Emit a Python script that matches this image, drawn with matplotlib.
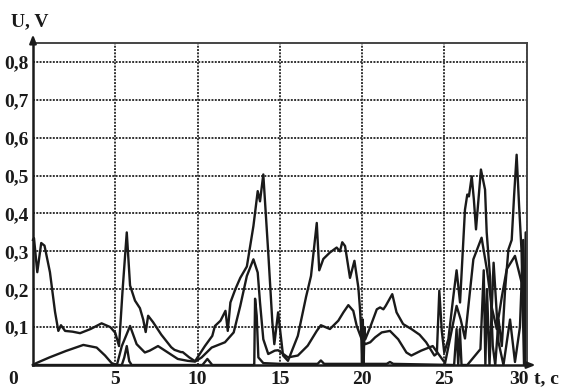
import matplotlib
matplotlib.use("Agg")
import matplotlib.pyplot as plt
from matplotlib.transforms import ScaledTranslation

# ---- data ----
A_t = [0, 0.06, 0.26, 0.5, 0.7, 1.03, 1.34, 1.54, 1.7, 1.95,
       2.4, 2.86, 3.5, 4.17, 4.7, 5.0, 5.23, 5.45, 5.7, 5.9,
       6.2, 6.5, 6.7, 6.85, 7.0, 7.3, 7.8, 8.4, 8.6, 9.0,
       9.1, 9.5, 9.85, 10.45, 10.9, 11.06, 11.4, 11.7, 11.84, 12.0,
       12.3, 12.6, 13.0, 13.15, 13.4, 13.66, 13.8, 14.0, 14.3, 14.55,
       14.67, 14.9, 15.2, 15.5, 16.1, 16.6, 16.9, 17.25, 17.4, 17.65,
       18.05, 18.46, 18.66, 18.8, 18.97, 19.27, 19.54, 19.78, 19.88, 19.95,
       20.0, 20.05, 20.1, 20.15, 20.2, 20.5, 20.9, 21.1, 21.3, 21.44,
       21.84, 22.1, 22.5, 23.0, 23.5, 23.9, 24.4, 24.55, 24.7, 24.85,
       25.0, 25.25, 25.55, 25.75, 25.96, 26.26, 26.4, 26.5, 26.67, 26.8,
       26.93, 27.23, 27.48, 27.58, 27.78, 27.95, 28.1, 28.3, 28.5, 28.7,
       28.9, 29.1, 29.25, 29.4, 29.55, 29.7, 29.85, 29.95, 30.0]
A_U = [0.33, 0.335, 0.245, 0.322, 0.315, 0.245, 0.14, 0.09, 0.105, 0.09,
       0.088, 0.084, 0.095, 0.11, 0.1, 0.085, 0.05, 0.2, 0.35, 0.21,
       0.17, 0.15, 0.12, 0.087, 0.13, 0.113, 0.08, 0.047, 0.04, 0.034,
       0.034, 0.02, 0.01, 0.05, 0.077, 0.103, 0.117, 0.143, 0.09, 0.165,
       0.2, 0.23, 0.26, 0.3, 0.367, 0.459, 0.432, 0.503, 0.297, 0.113,
       0.055, 0.139, 0.025, 0.011, 0.077, 0.18, 0.235, 0.375, 0.25, 0.28,
       0.297, 0.31, 0.30, 0.324, 0.314, 0.23, 0.275, 0.204, 0.147, 0.09,
       0.0, 0.12, 0.0, 0.1, 0.068, 0.1, 0.147, 0.152, 0.147, 0.156,
       0.187, 0.139, 0.108, 0.095, 0.08, 0.06, 0.025, 0.03, 0.196, 0.09,
       0.033, 0.068, 0.18, 0.25, 0.165, 0.41, 0.45, 0.445, 0.498, 0.437,
       0.358, 0.516, 0.463, 0.35, 0.235, 0.05, 0.0, 0.12, 0.05, 0.2,
       0.305, 0.33, 0.45, 0.555, 0.42, 0.3, 0.0, 0.35, 0.0]

B_t = [0, 0.2, 1.0, 2.0, 3.06, 3.87, 4.38, 4.78, 5.1, 5.4,
       5.9, 6.3, 6.8, 7.1, 7.6, 8.2, 8.8, 9.4, 9.85, 10.25,
       10.86, 11.67, 12.2, 12.6, 13.0, 13.4, 13.66, 13.8, 14.0, 14.3,
       14.7, 14.9, 15.5, 16.1, 16.7, 17.25, 17.5, 18.05, 18.56, 18.87,
       19.17, 19.47, 19.68, 19.98, 20.2, 20.5, 20.8, 21.2, 21.7, 22.2,
       22.7, 23.0, 23.6, 24.3, 25.05, 25.4, 25.75, 26.0, 26.26, 26.77,
       27.27, 27.6, 27.9, 28.19, 28.5, 28.8, 29.3, 29.7, 29.9, 30.0]
B_U = [0.0, 0.005, 0.02, 0.037, 0.053, 0.046, 0.025, 0.005, 0.0, 0.05,
       0.103, 0.055, 0.033, 0.038, 0.05, 0.033, 0.016, 0.011, 0.009, 0.02,
       0.046, 0.06, 0.086, 0.156, 0.235, 0.279, 0.244, 0.165, 0.068, 0.029,
       0.038, 0.039, 0.02, 0.025, 0.051, 0.09, 0.105, 0.095, 0.117, 0.139,
       0.158, 0.143, 0.103, 0.068, 0.055, 0.06, 0.073, 0.086, 0.09, 0.068,
       0.033, 0.025, 0.038, 0.05, 0.005, 0.08, 0.156, 0.12, 0.07, 0.279,
       0.336, 0.25, 0.15, 0.095, 0.18, 0.253, 0.288, 0.218, 0.05, 0.0]

C_t = [0, 5.4, 5.55, 5.7, 5.85, 6.0, 10.3, 10.6, 10.9, 13.4,
       13.45, 13.5, 13.6, 13.7, 14.0, 15.0, 17.3, 17.5, 17.7, 19.9,
       20.0, 20.1, 21.5, 21.7, 21.9, 25.6, 25.75, 25.85, 25.95, 26.05,
       26.4, 27.2, 27.4, 27.5, 27.6, 27.75, 28.0, 28.3, 28.6, 29.0,
       29.3, 29.6, 29.8, 29.9, 30.0]
C_U = [0.0, 0.0, 0.02, 0.05, 0.01, 0.0, 0.0, 0.016, 0.0, 0.0,
       0.0, 0.175, 0.13, 0.02, 0.005, 0.003, 0.003, 0.012, 0.003, 0.003,
       0.0, 0.003, 0.003, 0.008, 0.003, 0.0, 0.095, 0.0, 0.095, 0.0,
       0.0, 0.042, 0.25, 0.0, 0.2, 0.0, 0.27, 0.06, 0.0, 0.12,
       0.008, 0.1, 0.33, 0.0, 0.02]

x_ticks = [0, 5, 10, 15, 20, 25, 30]
x_labels = ["0", "5", "10", "15", "20", "25", "30"]
y_ticks = [0.1, 0.2, 0.3, 0.4, 0.5, 0.6, 0.7, 0.8]
y_labels = ["0,1", "0,2", "0,3", "0,4", "0,5", "0,6", "0,7", "0,8"]

# ---- figure ----
plt.rcParams['font.family'] = ['Liberation Serif', 'DejaVu Serif']
plt.rcParams['font.weight'] = 'bold'

fig = plt.figure(figsize=(5.63, 3.90), dpi=100)
ax = fig.add_axes([33/563, 1 - 365/390, (526.5 - 33)/563, (365 - 43)/390])

for t, u in ((A_t, A_U), (B_t, B_U), (C_t, C_U)):
    ax.plot(t, u, color='#1a1a1a', lw=1.7, solid_joinstyle='round', clip_on=False)

ax.set_xlim(0, 30)
ax.set_ylim(0, 0.85)
ax.set_xticks(x_ticks)
ax.set_xticklabels(x_labels, fontsize=14, fontweight='bold')
ax.set_yticks(y_ticks)
ax.set_yticklabels(y_labels, fontsize=14, fontweight='bold')
ax.tick_params(length=0, colors='#1a1a1a')
ax.tick_params(axis='x', pad=4)
ax.tick_params(axis='y', pad=3)

labs = ax.get_xticklabels()
labs[0].set_transform(labs[0].get_transform() + ScaledTranslation(-0.20, 0, fig.dpi_scale_trans))
labs[-1].set_transform(labs[-1].get_transform() + ScaledTranslation(-0.08, 0, fig.dpi_scale_trans))

ax.grid(True, color='#333333', lw=1.4, linestyle=(0, (1, 0.7)))
ax.set_axisbelow(True)

for s in ('left', 'bottom'):
    ax.spines[s].set_linewidth(1.8)
    ax.spines[s].set_color('#1a1a1a')
for s in ('top', 'right'):
    ax.spines[s].set_linewidth(1.4)
    ax.spines[s].set_color('#444444')

# axis arrows
ax.annotate('', xy=(0, 1.035), xytext=(0, 0.99), xycoords='axes fraction',
            arrowprops=dict(arrowstyle='-|>,head_length=0.5,head_width=0.2',
                            color='#1a1a1a', lw=1.6))
ax.annotate('', xy=(1.024, 0), xytext=(0.99, 0), xycoords='axes fraction',
            arrowprops=dict(arrowstyle='-|>,head_length=0.5,head_width=0.2',
                            color='#1a1a1a', lw=1.6))

fig.text(30/563, 1 - 22/390, "U, V", fontsize=14, fontweight='bold',
         ha='center', va='center', color='#1a1a1a')
fig.text(546/563, 1 - 379/390, "t, c", fontsize=14, fontweight='bold',
         ha='center', va='center', color='#1a1a1a')

fig.savefig("out.png", dpi=100)
